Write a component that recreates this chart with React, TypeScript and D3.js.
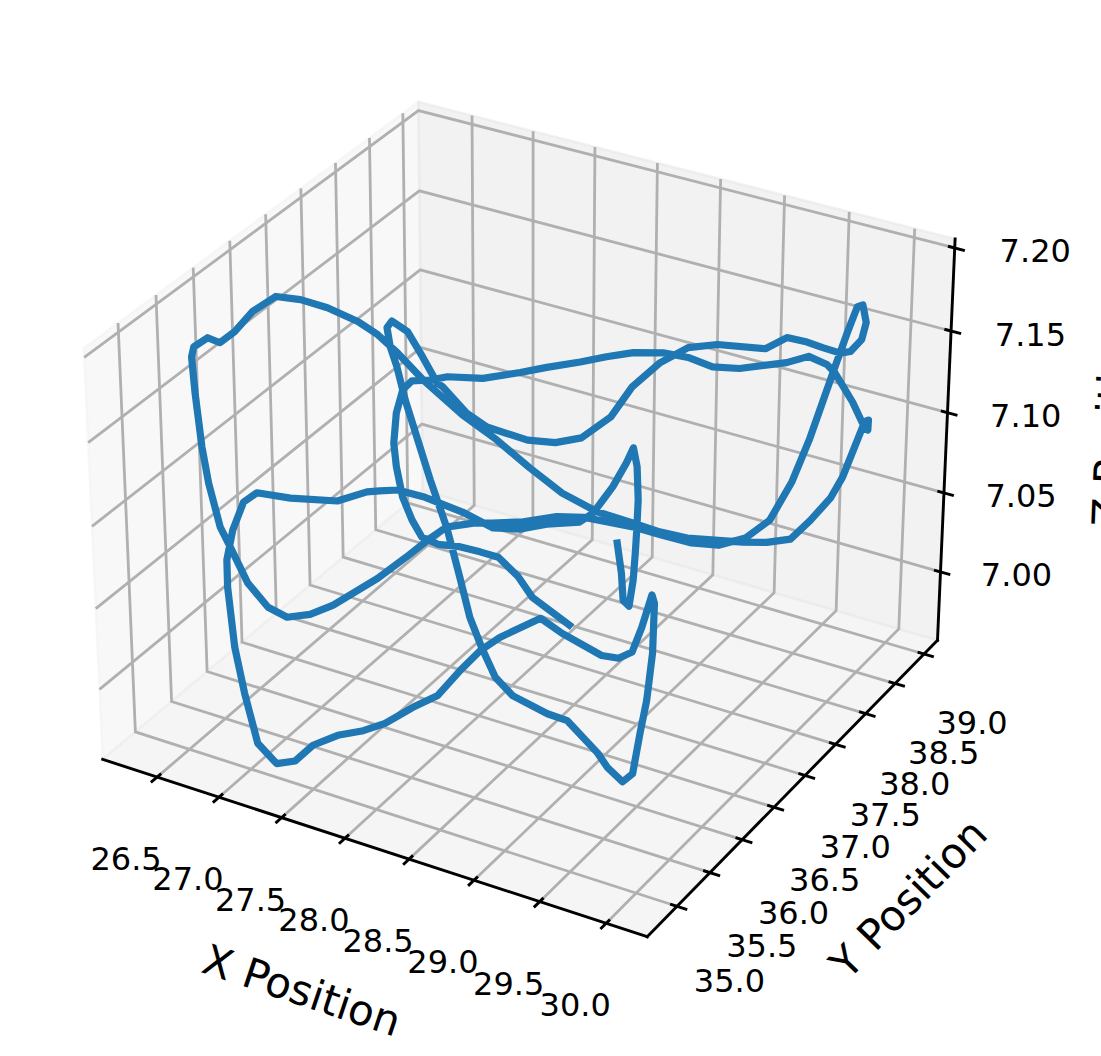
import { line, scaleLinear } from "d3";
import React from "react";

const xValues = [28.88,29.10,29.28,29.35,29.21,29.05,28.91,28.72,28.49,28.34,28.40,28.48,28.51,28.54,28.52,28.34,28.22,28.05,27.76,
  27.42,27.22,27.12,27.05,26.94,26.64,26.45,26.44,26.58,26.76,26.85,26.88,26.99,27.15,27.31,27.40,27.40,27.48,27.60,27.68,
  27.76,27.85,27.86,27.88,27.93,28.09,28.32,28.70,28.82,28.86,28.78,28.65,28.72,29.03,29.29,29.45,29.65,29.64,29.47,29.32,
  28.95,28.79,28.47,28.25,27.97,27.70,27.36,27.06,26.97,26.72,26.64,26.58,26.55,26.52,26.51,26.69,26.97,27.25,27.31,27.64,
  27.86,28.19,28.37,28.49,28.52,28.44,28.44,28.57,28.78,29.14,29.29,29.45,29.58,29.72,29.77,29.79,29.82,29.79,29.77,29.88,
  29.98,29.94,29.91,29.88,29.85,29.74,29.57,29.34,29.13,28.78,28.62,28.46,28.29,28.18,28.05,28.03,28.01,27.83,27.54,27.39,
  27.23,27.05,26.76,26.41,26.40,26.39,26.37,26.36,26.33,26.32,26.33,26.44,26.44,26.39,26.41,26.58,26.80,27.08,27.28,27.48,
  27.75,28.17,28.51,28.85,29.12,29.37,29.64,29.71,29.75,29.84,29.88,29.92,29.92,29.90,29.84,29.82,29.87,29.85,29.83,29.75,
  29.63,29.58,29.47,29.38,29.14,28.97,28.76,28.58,28.40,28.27,28.15,27.99,27.87,27.69,27.47,27.39,27.29,27.30,27.43,27.63,
  27.81,27.95,28.01,28.10,28.23,28.37,28.52,28.66,28.82,28.96,29.15,29.29];
const yValues = [36.90,36.53,36.20,36.15,36.49,36.84,37.14,37.54,37.98,38.22,37.99,37.62,37.41,37.20,37.03,36.88,36.72,36.63,36.72,36.77,
  36.76,36.68,36.62,36.39,36.25,36.11,35.94,35.55,35.16,35.01,35.03,34.96,34.85,34.83,34.93,35.18,35.39,35.54,35.71,35.97,
  36.17,36.49,36.75,36.95,37.27,37.16,37.03,37.06,37.19,37.50,37.92,37.82,37.17,36.56,36.14,35.63,35.50,35.61,35.75,36.02,
  36.03,36.12,36.28,36.60,36.93,37.41,37.82,37.94,38.15,37.93,37.92,37.88,37.89,37.98,37.89,37.60,37.30,37.27,37.01,36.90,
  36.88,36.95,37.11,37.50,37.99,38.43,38.61,38.65,38.68,38.71,38.70,38.68,38.67,38.73,38.87,38.87,38.87,38.82,38.42,38.03,
  37.71,37.51,37.23,36.91,36.72,36.65,36.64,36.64,36.58,36.49,36.30,36.17,36.10,35.95,35.72,35.45,35.37,35.26,35.20,35.16,
  35.21,35.43,35.79,35.68,35.56,35.52,35.47,35.49,35.54,35.71,35.69,35.89,36.22,36.51,36.56,36.55,36.48,36.40,36.32,36.19,
  35.97,35.82,35.65,35.60,35.62,35.61,35.87,36.21,36.89,37.19,37.49,37.81,38.18,38.51,38.87,38.85,38.90,38.84,38.84,38.79,
  38.76,38.69,38.52,38.26,38.18,38.22,38.19,38.08,37.92,37.75,37.55,37.38,37.16,37.05,36.94,36.86,36.71,36.38,35.98,35.69,
  35.52,35.54,35.51,35.50,35.55,35.56,35.56,35.54,35.48,35.44,35.38,35.41];
const zValues = [7.070,7.070,7.070,7.070,7.070,7.070,7.070,7.070,7.070,7.070,7.070,7.070,7.070,7.070,7.070,7.070,7.070,7.070,7.070,7.070,
  7.070,7.070,7.070,7.070,7.070,7.074,7.074,7.074,7.074,7.065,7.028,7.005,6.982,6.974,6.974,6.974,6.974,6.974,6.974,6.976,
  6.978,6.982,6.985,6.987,6.991,6.991,6.991,6.991,6.991,6.993,6.995,6.995,6.995,6.995,6.995,6.995,6.995,6.995,6.995,6.995,
  6.995,6.995,6.995,6.995,6.995,6.995,6.997,6.998,7.016,7.073,7.093,7.106,7.117,7.118,7.118,7.118,7.118,7.118,7.118,7.118,
  7.118,7.118,7.118,7.118,7.118,7.118,7.124,7.129,7.133,7.142,7.143,7.143,7.143,7.143,7.146,7.157,7.167,7.167,7.167,7.164,
  7.128,7.109,7.095,7.095,7.095,7.095,7.095,7.095,7.095,7.095,7.095,7.095,7.095,7.095,7.095,7.094,7.080,7.061,7.054,7.050,
  7.050,7.050,7.051,7.067,7.098,7.121,7.155,7.175,7.179,7.179,7.179,7.179,7.179,7.179,7.179,7.179,7.179,7.178,7.174,7.168,
  7.164,7.162,7.159,7.152,7.146,7.146,7.133,7.118,7.093,7.083,7.075,7.075,7.075,7.075,7.093,7.093,7.097,7.097,7.108,7.125,
  7.130,7.135,7.135,7.135,7.135,7.135,7.135,7.135,7.135,7.135,7.135,7.135,7.135,7.135,7.135,7.135,7.135,7.135,7.135,7.135,
  7.126,7.113,7.106,7.105,7.105,7.105,7.105,7.098,7.091,7.087,7.086];

const xTicks = [26.5, 27.0, 27.5, 28.0, 28.5, 29.0, 29.5, 30.0];
const yTicks = [35.0, 35.5, 36.0, 36.5, 37.0, 37.5, 38.0, 38.5, 39.0];
const zTicks = [7.0, 7.05, 7.1, 7.15, 7.2];

const xLim: [number, number] = [26.056, 30.306];
const yLim: [number, number] = [34.556, 39.235];
const zLim: [number, number] = [6.956, 7.2054];

// same camera as a default mplot3d axes: elev 30, azim -60, dist 10
const BOX_XY = 1.142857;
const BOX_Z = 0.857143;
const U = [0.8660254, 0.5, 0];
const V = [-0.25, 0.4330127, 0.8660254];
const W = [0.4330127, -0.75, 0.5];
const dot = (a: number[], b: number[]) => a[0] * b[0] + a[1] * b[1] + a[2] * b[2];

const boxX = scaleLinear().domain(xLim).range([-BOX_XY / 2, BOX_XY / 2]);
const boxY = scaleLinear().domain(yLim).range([-BOX_XY / 2, BOX_XY / 2]);
const boxZ = scaleLinear().domain(zLim).range([-BOX_Z / 2, BOX_Z / 2]);
const screenX = scaleLinear().domain([-0.1, 0.1]).range([527.5 - 546, 527.5 + 546]);
const screenY = scaleLinear().domain([-0.1, 0.1]).range([500 + 547, 500 - 547]);

type P3 = [number, number, number];

const project = ([x, y, z]: P3): [number, number] => {
  const d = [boxX(x), boxY(y), boxZ(z)];
  const depth = 10 - dot(W, d);
  return [screenX(dot(U, d) / depth), screenY(dot(V, d) / depth)];
};

const path3 = line<P3>()
  .x((p) => project(p)[0])
  .y((p) => project(p)[1]);

const [x0, x1] = xLim;
const [y0, y1] = yLim;
const [z0, z1] = zLim;
const trajectory = xValues.map((x, i) => [x, yValues[i], zValues[i]] as P3);

const panes: { pts: P3[]; fill: string }[] = [
  { pts: [[x0, y0, z0], [x0, y1, z0], [x0, y1, z1], [x0, y0, z1]], fill: "#f2f2f2" },
  { pts: [[x0, y1, z0], [x1, y1, z0], [x1, y1, z1], [x0, y1, z1]], fill: "#e6e6e6" },
  { pts: [[x0, y0, z0], [x1, y0, z0], [x1, y1, z0], [x0, y1, z0]], fill: "#ececec" },
];

const grid: P3[][] = [
  ...xTicks.map((t) => [[t, y0, z0], [t, y1, z0], [t, y1, z1]] as P3[]),
  ...yTicks.map((t) => [[x1, t, z0], [x0, t, z0], [x0, t, z1]] as P3[]),
  ...zTicks.map((t) => [[x0, y0, t], [x0, y1, t], [x1, y1, t]] as P3[]),
];

const axes: P3[][] = [
  [[x0, y0, z0], [x1, y0, z0]],
  [[x1, y0, z0], [x1, y1, z0]],
  [[x1, y1, z0], [x1, y1, z1]],
];

const IN = 0.012;
const OUT = 0.018;
const dx = x1 - x0;
const dy = y1 - y0;

const tickMarks: P3[][] = [
  ...xTicks.map((t) => [[t, y0 + IN * dy, z0], [t, y0 - OUT * dy, z0]] as P3[]),
  ...yTicks.map((t) => [[x1 - IN * dx, t, z0], [x1 + OUT * dx, t, z0]] as P3[]),
  ...zTicks.map((t) => [[x1 - IN * dx, y1, t], [x1 + OUT * dx, y1, t]] as P3[]),
];

// label offsets drift a little along each axis, as they do under perspective
const yOffX = scaleLinear().domain([35, 39]).range([52.5, 48]);
const yOffY = scaleLinear().domain([35, 39]).range([74, 68]);
const zOffX = scaleLinear().domain([7, 7.2]).range([76, 80.5]);

const tickLabels = [
  ...xTicks.map((t) => ({ text: t.toFixed(1), at: [t, y0, z0] as P3, ox: -31, oy: 81.5 })),
  ...yTicks.map((t) => ({ text: t.toFixed(1), at: [x1, t, z0] as P3, ox: yOffX(t), oy: yOffY(t) })),
  ...zTicks.map((t) => ({ text: t.toFixed(2), at: [x1, y1, t] as P3, ox: zOffX(t), oy: 3 })),
];

const axisLabels = [
  { text: "X Position", x: 302, y: 990, angle: 18.5 },
  { text: "Y Position", x: 908, y: 898, angle: -45.7 },
  { text: "Z Position", x: 1111, y: 424, angle: -87.6 },
];

const FONT = "'DejaVu Sans', sans-serif";

export default function App() {
  return (
    <svg
      width={1101}
      height={1056}
      style={{ position: "absolute", left: 0, top: 0, display: "block", background: "#fff" }}
    >
      {panes.map((p, i) => (
        <path
          key={i}
          d={path3(p.pts)! + "Z"}
          fill={p.fill}
          fillOpacity={0.5}
          stroke={p.fill}
          strokeOpacity={0.5}
          strokeWidth={2.5}
        />
      ))}
      {grid.map((g, i) => (
        <path key={i} d={path3(g)!} fill="none" stroke="#b0b0b0" strokeWidth={2.8} />
      ))}
      {axes.map((a, i) => (
        <path key={i} d={path3(a)!} fill="none" stroke="#000" strokeWidth={2.9} strokeLinecap="square" />
      ))}
      {tickMarks.map((t, i) => (
        <path key={i} d={path3(t)!} fill="none" stroke="#000" strokeWidth={2.9} />
      ))}
      {tickLabels.map((l, i) => {
        const [px, py] = project(l.at);
        return (
          <text
            key={i}
            x={px + l.ox}
            y={py + l.oy}
            dy="0.36em"
            textAnchor="middle"
            fontFamily={FONT}
            fontSize={32}
            fill="#000"
          >
            {l.text}
          </text>
        );
      })}
      {axisLabels.map((l) => (
        <text
          key={l.text}
          transform={`translate(${l.x},${l.y}) rotate(${l.angle})`}
          dy="0.36em"
          textAnchor="middle"
          fontFamily={FONT}
          fontSize={42}
          fill="#000"
        >
          {l.text}
        </text>
      ))}
      <path
        d={path3(trajectory)!}
        fill="none"
        stroke="#1f77b4"
        strokeWidth={7.2}
        strokeLinejoin="round"
        strokeLinecap="square"
      />
    </svg>
  );
}
